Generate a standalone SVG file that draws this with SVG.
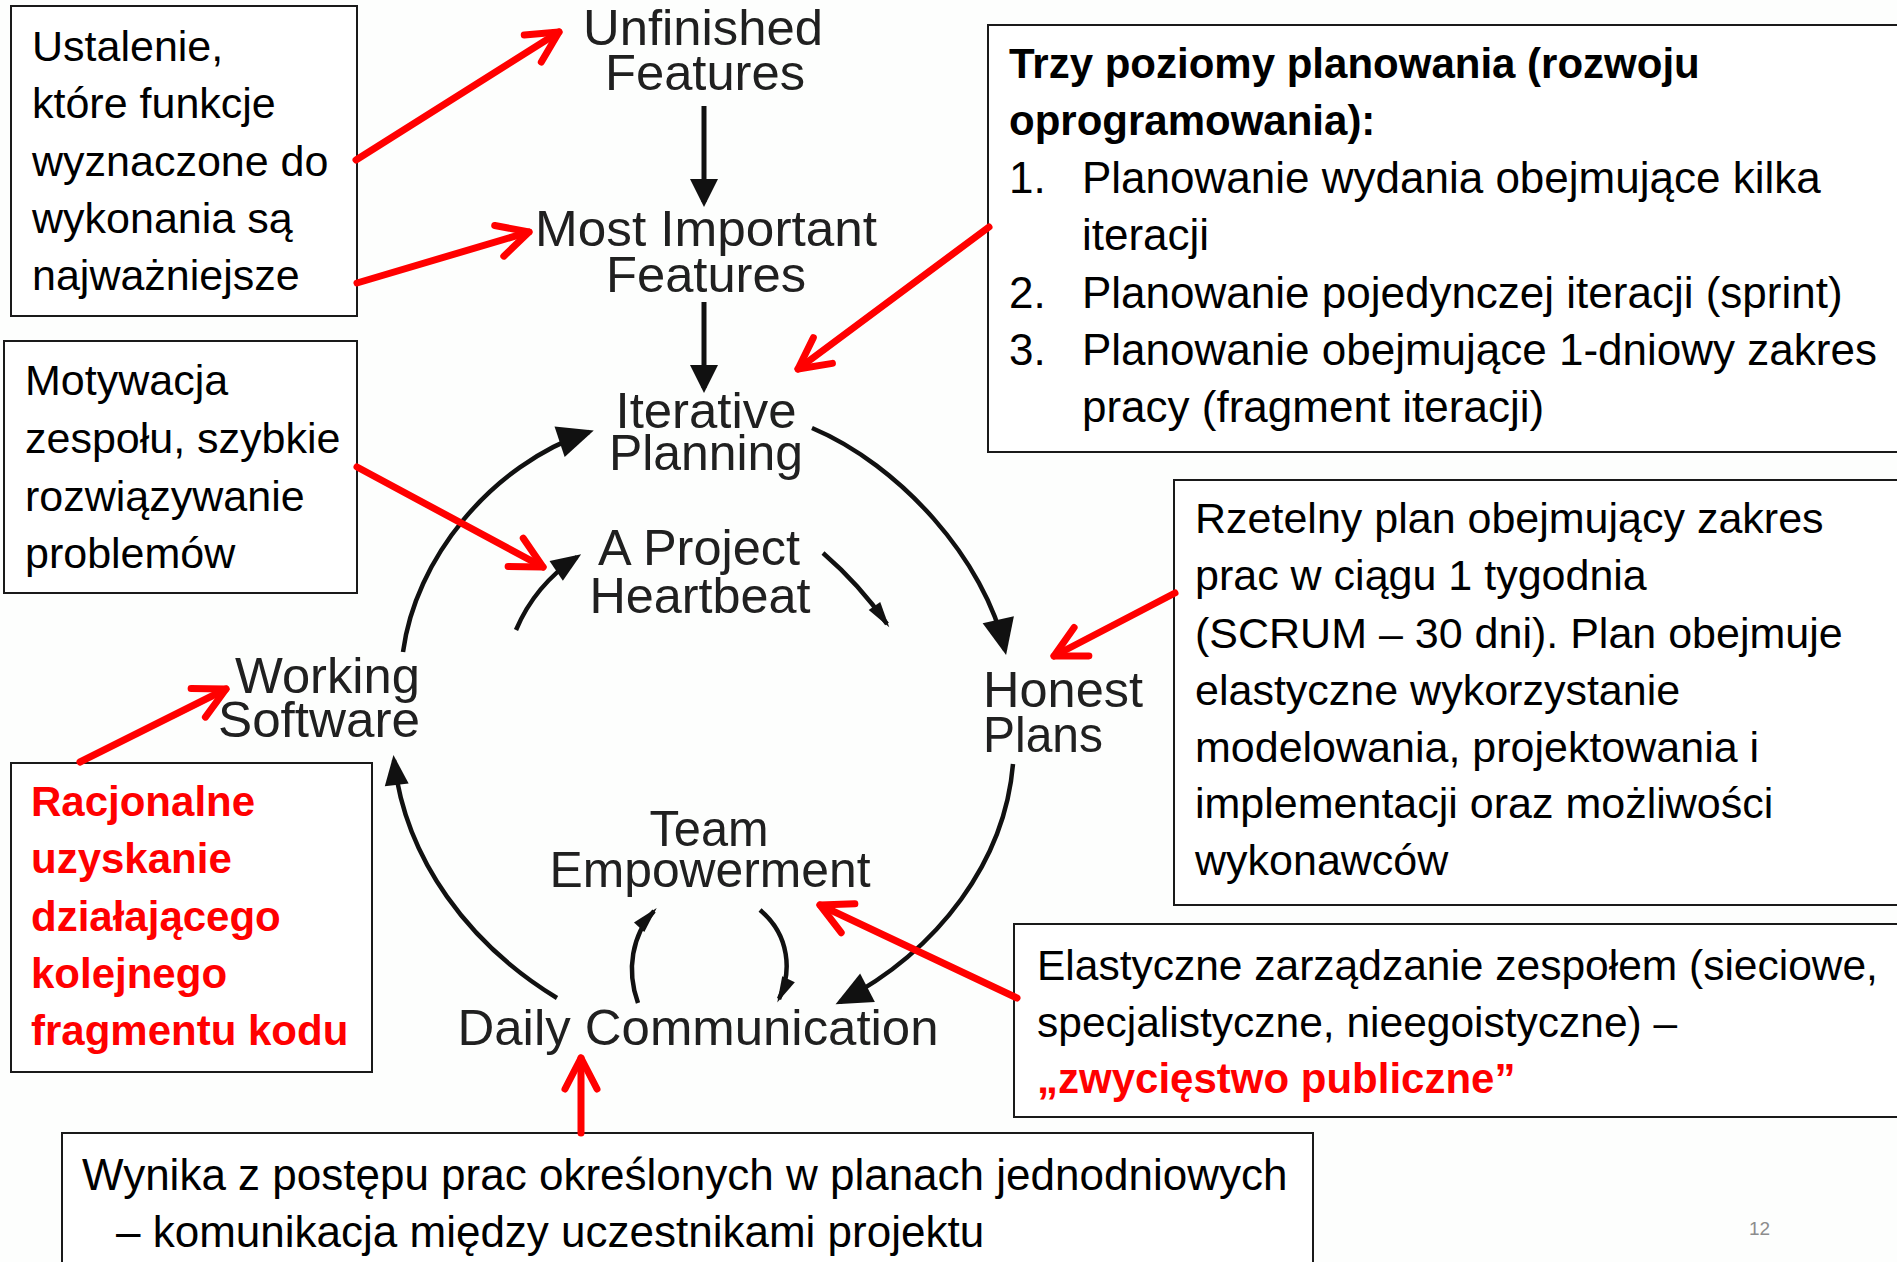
<svg xmlns="http://www.w3.org/2000/svg" width="1897" height="1262" viewBox="0 0 1897 1262">
<style>
.box{fill:#ffffff;stroke:#1a1a1a;stroke-width:2}
.t{font-family:"Liberation Sans",Arial,sans-serif;font-size:43px;fill:#000}
.t44{font-size:44px}
.t42{font-size:42.5px}
.tb{font-family:"Liberation Sans",Arial,sans-serif;font-size:42px;font-weight:bold;fill:#000}
.tr{font-family:"Liberation Sans",Arial,sans-serif;font-size:42px;font-weight:bold;fill:#ff0000}
.lbl{font-family:"Liberation Sans",Arial,sans-serif;font-size:50px;fill:#202020}
.arc{fill:none;stroke:#111;stroke-width:4.5}
.red{fill:none;stroke:#ff0000;stroke-width:7;stroke-linecap:round}
</style>
<defs>
<marker id="ra" markerUnits="userSpaceOnUse" viewBox="-50 -30 60 60" markerWidth="60" markerHeight="60" refX="0" refY="0" orient="auto" overflow="visible">
<path d="M-31,-16 L0,0 L-31,16" fill="none" stroke="#ff0000" stroke-width="7" stroke-linecap="round" stroke-linejoin="round"/>
</marker>
<marker id="bbig" markerUnits="userSpaceOnUse" viewBox="-50 -30 60 60" markerWidth="60" markerHeight="60" refX="-5" refY="0" orient="auto" overflow="visible">
<path d="M0,0 L-36,-16 L-36,16 Z" fill="#111"/>
</marker>
<marker id="bmid" markerUnits="userSpaceOnUse" viewBox="-50 -30 60 60" markerWidth="60" markerHeight="60" refX="-5" refY="0" orient="auto" overflow="visible">
<path d="M0,0 L-30,-12 L-30,12 Z" fill="#111"/>
</marker>
<marker id="bthin" markerUnits="userSpaceOnUse" viewBox="-50 -30 60 60" markerWidth="60" markerHeight="60" refX="-4" refY="0" orient="auto" overflow="visible">
<path d="M0,0 L-26,-7 L-26,7 Z" fill="#111"/>
</marker>
<marker id="bv" markerUnits="userSpaceOnUse" viewBox="-50 -30 60 60" markerWidth="60" markerHeight="60" refX="-5" refY="0" orient="auto" overflow="visible">
<path d="M0,0 L-28,-14 L-28,14 Z" fill="#111"/>
</marker>
</defs>
<rect x="0" y="0" width="1897" height="1262" fill="#fdfefd"/>

<g id="box-ustalenie">
<rect class="box" x="11" y="6" width="346" height="310"/>
<text class="t" x="32" y="61">Ustalenie,</text>
<text class="t" x="32" y="118">które funkcje</text>
<text class="t" x="32" y="176">wyznaczone do</text>
<text class="t" x="32" y="233">wykonania są</text>
<text class="t" x="32" y="290">najważniejsze</text>
</g>

<g id="box-motywacja">
<rect class="box" x="4" y="341" width="353" height="252"/>
<text class="t" x="25" y="395">Motywacja</text>
<text class="t" x="25" y="453">zespołu, szybkie</text>
<text class="t" x="25" y="511">rozwiązywanie</text>
<text class="t" x="25" y="568">problemów</text>
</g>

<g id="box-poziomy">
<rect class="box" x="988" y="25" width="920" height="427"/>
<text class="tb" x="1009" y="78">Trzy poziomy planowania (rozwoju</text>
<text class="tb" x="1009" y="135">oprogramowania):</text>
<text class="t t44" x="1009" y="193">1.</text>
<text class="t t44" x="1082" y="193">Planowanie wydania obejmujące kilka</text>
<text class="t t44" x="1082" y="250">iteracji</text>
<text class="t t44" x="1009" y="308">2.</text>
<text class="t t44" x="1082" y="308">Planowanie pojedynczej iteracji (sprint)</text>
<text class="t t44" x="1009" y="365">3.</text>
<text class="t t44" x="1082" y="365">Planowanie obejmujące 1-dniowy zakres</text>
<text class="t t44" x="1082" y="422">pracy (fragment iteracji)</text>
</g>

<g id="box-rzetelny">
<rect class="box" x="1174" y="480" width="734" height="425"/>
<text class="t" x="1195" y="533">Rzetelny plan obejmujący zakres</text>
<text class="t" x="1195" y="590">prac w ciągu 1 tygodnia</text>
<text class="t" x="1195" y="648">(SCRUM – 30 dni). Plan obejmuje</text>
<text class="t" x="1195" y="705">elastyczne wykorzystanie</text>
<text class="t" x="1195" y="762">modelowania, projektowania i</text>
<text class="t" x="1195" y="818">implementacji oraz możliwości</text>
<text class="t" x="1195" y="875">wykonawców</text>
</g>

<g id="box-racjonalne">
<rect class="box" x="11" y="763" width="361" height="309"/>
<text class="tr" x="31" y="816">Racjonalne</text>
<text class="tr" x="31" y="873">uzyskanie</text>
<text class="tr" x="31" y="931">działającego</text>
<text class="tr" x="31" y="988">kolejnego</text>
<text class="tr" x="31" y="1045">fragmentu kodu</text>
</g>

<g id="box-elastyczne">
<rect class="box" x="1014" y="924" width="894" height="193"/>
<text class="t t42" x="1037" y="980">Elastyczne zarządzanie zespołem (sieciowe,</text>
<text class="t t42" x="1037" y="1037">specjalistyczne, nieegoistyczne) –</text>
<text class="tr" x="1037" y="1093">„zwycięstwo publiczne”</text>
</g>

<g id="box-wynika">
<rect class="box" x="62" y="1133" width="1251" height="140"/>
<text class="t t44" x="82" y="1190">Wynika z postępu prac określonych w planach jednodniowych</text>
<text class="t t44" x="116" y="1247">– komunikacja między uczestnikami projektu</text>
</g>

<g id="node-unfinished">
<text class="lbl" x="703" y="45" text-anchor="middle" textLength="240" lengthAdjust="spacingAndGlyphs">Unfinished</text>
<text class="lbl" x="705" y="90" text-anchor="middle" textLength="200" lengthAdjust="spacingAndGlyphs">Features</text>
</g>
<g id="node-most-important">
<text class="lbl" x="706" y="246" text-anchor="middle" textLength="342" lengthAdjust="spacingAndGlyphs">Most Important</text>
<text class="lbl" x="706" y="292" text-anchor="middle" textLength="200" lengthAdjust="spacingAndGlyphs">Features</text>
</g>
<g id="node-iterative">
<text class="lbl" x="706" y="428" text-anchor="middle" textLength="181" lengthAdjust="spacingAndGlyphs">Iterative</text>
<text class="lbl" x="706" y="470" text-anchor="middle" textLength="194" lengthAdjust="spacingAndGlyphs">Planning</text>
</g>
<g id="node-heartbeat">
<text class="lbl" x="699" y="565" text-anchor="middle" textLength="202" lengthAdjust="spacingAndGlyphs">A Project</text>
<text class="lbl" x="700" y="613" text-anchor="middle" textLength="221" lengthAdjust="spacingAndGlyphs">Heartbeat</text>
</g>
<g id="node-honest">
<text class="lbl" x="983" y="707" textLength="160" lengthAdjust="spacingAndGlyphs">Honest</text>
<text class="lbl" x="983" y="752" textLength="120" lengthAdjust="spacingAndGlyphs">Plans</text>
</g>
<g id="node-working">
<text class="lbl" x="420" y="693" text-anchor="end" textLength="185" lengthAdjust="spacingAndGlyphs">Working</text>
<text class="lbl" x="420" y="737" text-anchor="end" textLength="202" lengthAdjust="spacingAndGlyphs">Software</text>
</g>
<g id="node-team">
<text class="lbl" x="709" y="846" text-anchor="middle" textLength="119" lengthAdjust="spacingAndGlyphs">Team</text>
<text class="lbl" x="710" y="887" text-anchor="middle" textLength="321" lengthAdjust="spacingAndGlyphs">Empowerment</text>
</g>
<g id="node-daily">
<text class="lbl" x="698" y="1045" text-anchor="middle" textLength="481" lengthAdjust="spacingAndGlyphs">Daily Communication</text>
</g>

<g id="connectors">
<path class="arc" style="stroke-width:5" d="M704,106 L704,202" marker-end="url(#bv)"/>
<path class="arc" style="stroke-width:5" d="M704,302 L704,388" marker-end="url(#bv)"/>
<path class="arc" d="M403,652 C415,560 490,465 589,432" marker-end="url(#bbig)"/>
<path class="arc" d="M812,428 C900,465 985,560 1005,650" marker-end="url(#bbig)"/>
<path class="arc" d="M1013,764 C1005,860 940,950 840,1002" marker-end="url(#bbig)"/>
<path class="arc" d="M557,998 C470,945 405,860 394,760" marker-end="url(#bmid)"/>
<path class="arc" d="M516,630 Q535,585 577,557" marker-end="url(#bmid)"/>
<path class="arc" d="M823,553 Q860,585 887,624" marker-end="url(#bthin)"/>
<path class="arc" d="M638,1003 C626,970 632,935 654,911" marker-end="url(#bthin)"/>
<path class="arc" d="M760,910 C790,935 792,972 779,999" marker-end="url(#bthin)"/>

<path class="red" d="M356,160 L559,32" marker-end="url(#ra)"/>
<path class="red" d="M357,283 L529,232" marker-end="url(#ra)"/>
<path class="red" d="M357,467 L543,567" marker-end="url(#ra)"/>
<path class="red" d="M989,227 L798,369" marker-end="url(#ra)"/>
<path class="red" d="M1175,593 L1054,656" marker-end="url(#ra)"/>
<path class="red" d="M80,762 L226,689" marker-end="url(#ra)"/>
<path class="red" d="M581,1133 L581,1058" marker-end="url(#ra)"/>
<path class="red" d="M1017,998 L820,905" marker-end="url(#ra)"/>
</g>

<text x="1749" y="1235" style="font-family:'Liberation Sans',Arial,sans-serif;font-size:19px;fill:#8c8c8c">12</text>
</svg>
